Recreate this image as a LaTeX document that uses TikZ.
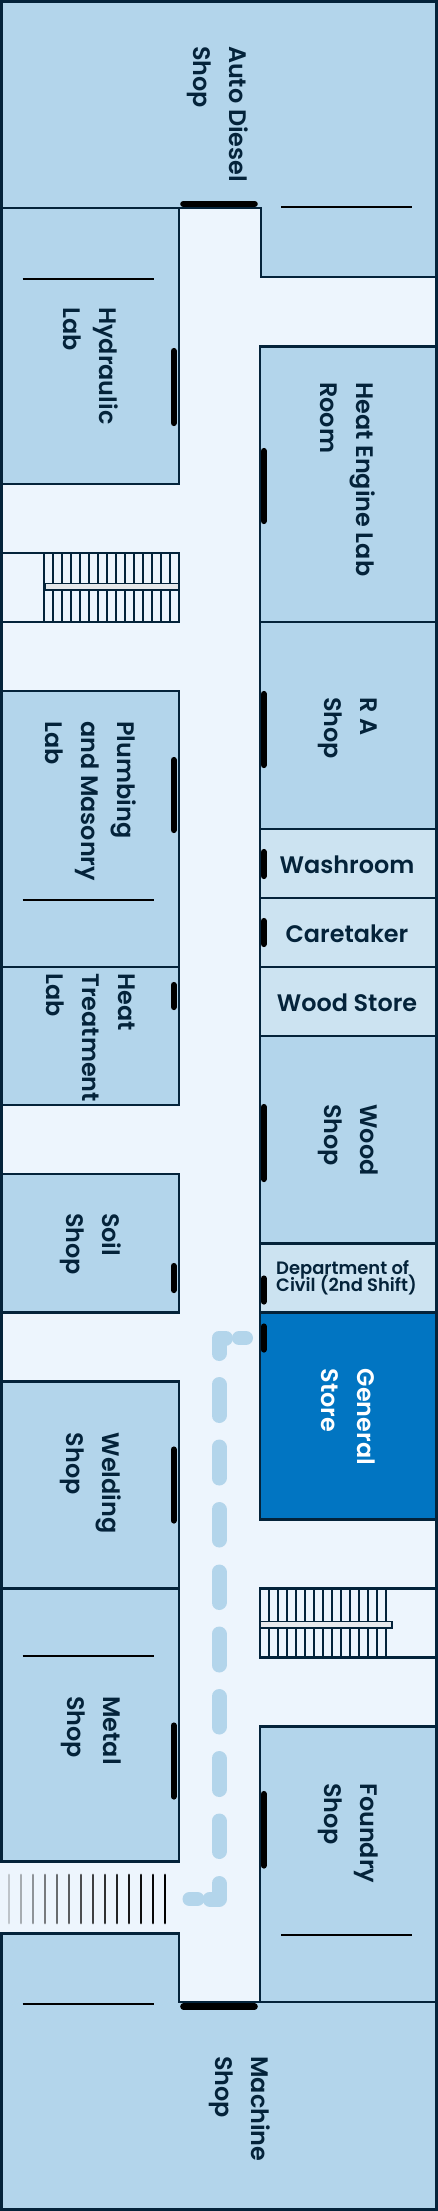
\documentclass[tikz,border=0pt]{standalone}
\usepackage{fontspec}
\setmainfont{Poppins SemiBold}
\usepackage{xcolor}
\usetikzlibrary{positioning}
\definecolor{PlanRoom}{HTML}{B3D5EB}
\definecolor{PlanSmall}{HTML}{CCE3F1}
\definecolor{PlanHall}{HTML}{EDF5FD}
\definecolor{PlanStore}{HTML}{0175C2}
\definecolor{PlanWall}{HTML}{04233A}
\definecolor{PlanRail}{HTML}{E6E9EC}
\newcommand{\civilfont}{\fontsize{10.2pt}{9.8pt}\selectfont\setlength{\lineskiplimit}{-10pt}\setlength{\lineskip}{0pt}}
\tikzset{
  roomshape/.style={fill=PlanRoom,draw=PlanWall,line width=2.9*0.02cm},
  smallshape/.style={fill=PlanSmall,draw=PlanWall,line width=2.9*0.02cm},
  wallline/.style={draw=PlanWall,line width=2.9*0.02cm},
  door/.style={draw=black,line width=6.2*0.02cm,line cap=round},
  mark line/.style={draw=black,line width=2*0.02cm},
  tread/.style={draw=PlanWall,line width=1.2*0.02cm},
  railshape/.style={draw=PlanWall,fill=PlanRail,line width=1.4*0.02cm},
  routeline/.style={draw=PlanRoom,line width=15*0.02cm,line cap=round,line join=round},
  routetip/.style={draw=PlanRoom,line width=14*0.02cm,line cap=round},
  vlabel/.style={rotate=-90,anchor=west,align=left,text=PlanWall,font=\fontsize{13.6pt}{20.4pt}\selectfont,inner sep=0pt},
  hlabel/.style={text=PlanWall,font=\fontsize{13.6pt}{16pt}\selectfont,inner sep=0pt}
}
\begin{document}
\begin{tikzpicture}[x=0.02cm,y=-0.02cm]
  \useasboundingbox (0,0) rectangle (438,2211);
  \fill[PlanHall] (0,0) rectangle (438,2211);
  % outer wall
  \draw[PlanWall,line width=3*0.02cm] (1.5,1.5) rectangle (436.5,2209.5);
  % top and bottom shops
  \draw[roomshape] (1.5,1.5) -- (436.5,1.5) -- (436.5,277) -- (261,277) -- (261,208) -- (1.5,208) -- cycle;
  \draw[roomshape] (1.5,1933.5) -- (179,1933.5) -- (179,2002) -- (436.5,2002) -- (436.5,2209.5) -- (1.5,2209.5) -- cycle;
  % left rooms
  \draw[roomshape] (1.5,208) rectangle (179,484);
  \draw[roomshape] (1.5,691) rectangle (179,967);
  \draw[roomshape] (1.5,967) rectangle (179,1105);
  \draw[roomshape] (1.5,1174) rectangle (179,1312.5);
  \draw[roomshape] (1.5,1381.5) rectangle (179,1588.5);
  \draw[roomshape] (1.5,1588.5) rectangle (179,1861.3);
  % right rooms
  \draw[roomshape] (260,346.5) rectangle (436.5,622);
  \draw[roomshape] (260,622) rectangle (436.5,829);
  \draw[smallshape] (260,829) rectangle (436.5,898);
  \draw[smallshape] (260,898) rectangle (436.5,967);
  \draw[smallshape] (260,967) rectangle (436.5,1036);
  \draw[roomshape] (260,1036) rectangle (436.5,1243.5);
  \draw[smallshape] (260,1243.5) rectangle (436.5,1312.5);
  \draw[roomshape,fill=PlanStore] (260,1312.5) rectangle (436.5,1519.4);
  \draw[roomshape] (260,1726.5) rectangle (436.5,2002);
  % opening in the outer wall
  \fill[PlanHall] (0,1862.8) rectangle (3,1932);
  % left stairs
  \draw[wallline] (1.5,553) rectangle (179,622);
  \foreach \x in {44,53,...,170}
    \draw[tread] (\x,554) -- (\x,621);
  \draw[railshape] (45,583.5) rectangle (179,590);
  % right stairs
  \draw[wallline] (438,1588.7) -- (260,1588.7) -- (260,1657.3) -- (438,1657.3);
  \foreach \x in {269,278,...,394}
    \draw[tread] (\x,1590) -- (\x,1656);
  \draw[railshape] (260,1621.2) rectangle (392,1628);
  % entrance stripes
  \foreach \x/\o in {9/20,21/30,33/40,45/50,57/56,69/62,81/68,93/74,105/80,117/85,129/90,141/94,153/97,165/100}
    \draw[black!\o!PlanHall,line width=2.8*0.02cm,line cap=round] (\x,1875) -- (\x,1923);
  % route
  \draw[routeline] (219,1353.5) -- (219,1338) -- (225.5,1338);
  \draw[routetip] (239,1338) -- (246,1338);
  \draw[routeline] (219,1384.5) -- (219,1415.5);
  \draw[routeline] (219,1447) -- (219,1478);
  \draw[routeline] (219,1509.5) -- (219,1540);
  \draw[routeline] (219,1572) -- (219,1602.5);
  \draw[routeline] (219,1634) -- (219,1665);
  \draw[routeline] (219,1696.5) -- (219,1727);
  \draw[routeline] (219,1758.5) -- (219,1789.5);
  \draw[routeline] (219,1821) -- (219,1851.5);
  \draw[routeline] (219,1883.5) -- (219,1899) -- (210,1899);
  \draw[routetip] (189.5,1899) -- (197.5,1899);
  % doors
  \draw[door] (183.3,204) -- (254.7,204);
  \draw[door] (173.7,351) -- (173.7,423);
  \draw[door] (263.7,451) -- (263.7,521);
  \draw[door] (263.7,694) -- (263.7,765);
  \draw[door] (173.7,760) -- (173.7,830);
  \draw[door] (263.7,852) -- (263.7,876);
  \draw[door] (263.7,921) -- (263.7,944);
  \draw[door] (173.7,985) -- (173.7,1007);
  \draw[door] (263.7,1107) -- (263.7,1179);
  \draw[door] (173.7,1266) -- (173.7,1290);
  \draw[door] (263.7,1278.5) -- (263.7,1301.5);
  \draw[door] (263.7,1326.5) -- (263.7,1349.5);
  \draw[door] (173.7,1449.5) -- (173.7,1520.5);
  \draw[door] (173.7,1725.5) -- (173.7,1796.5);
  \draw[door] (263.7,1794) -- (263.7,1865.5);
  \draw[door] (183.3,2006.5) -- (254.7,2006.5);
  % thin marks
  \draw[mark line] (281,206.7) -- (412,206.7);
  \draw[mark line] (22.7,279) -- (154.3,279);
  \draw[mark line] (22.7,899.7) -- (154.3,899.7);
  \draw[mark line] (22.7,1655.7) -- (154.3,1655.7);
  \draw[mark line] (22.7,2004) -- (154.3,2004);
  \draw[mark line] (281,1934.8) -- (412,1934.8);
  % labels
  \node[vlabel] (autoshop) at (218,45.7) {Auto Diesel\\Shop};
  \node[vlabel] (hydraulic) at (91,307) {Hydraulic\\Lab};
  \node[vlabel] (heatengine) at (348,382) {Heat Engine Lab\\Room};
  \node[vlabel] (rashop) at (348,697) {R A\\Shop};
  \node[vlabel] (plumbing) at (90.5,721) {Plumbing\\and Masonry\\Lab};
  \node[vlabel] (heattreat) at (90.5,973) {Heat\\Treatment\\Lab};
  \node[vlabel] (woodshop) at (348,1104) {Wood\\Shop};
  \node[vlabel] (soilshop) at (91,1212.8) {Soil\\Shop};
  \node[vlabel,text=white] (genstore) at (348,1368.5) {General\\Store};
  \node[vlabel] (welding) at (91,1432.4) {Welding\\Shop};
  \node[vlabel] (metal) at (91,1696) {Metal\\Shop};
  \node[vlabel] (foundry) at (348,1783) {Foundry\\Shop};
  \node[vlabel] (machine) at (240,2056) {Machine\\Shop};
  \node[hlabel] (washroom) at (347,865) {Washroom};
  \node[hlabel] (caretaker) at (347,934) {Caretaker};
  \node[hlabel] (woodstore) at (347,1003) {Wood Store};
  \node[hlabel,align=left,font=\civilfont] (civil) at (346.5,1277.5) {Department of\\Civil (2nd Shift)};
\end{tikzpicture}
\end{document}
